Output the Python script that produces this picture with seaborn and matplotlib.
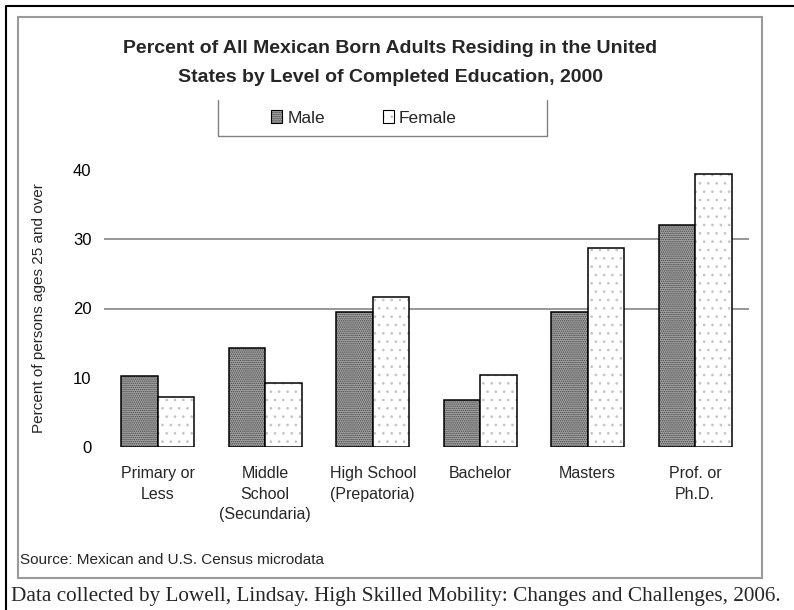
import matplotlib
matplotlib.use("Agg")
import matplotlib.pyplot as plt
from matplotlib.patches import Patch, Rectangle
from matplotlib.lines import Line2D
import seaborn as sns
import pandas as pd

# Education levels and share of persons ages 25+ (percent)
categories = ["Primary or\nLess", "Middle\nSchool\n(Secundaria)", "High School\n(Prepatoria)",
              "Bachelor", "Masters", "Prof. or\nPh.D."]
male = [10.2, 14.3, 19.5, 6.8, 19.5, 32.1]
female = [7.2, 9.2, 21.6, 10.4, 28.7, 39.4]
series = ["Male", "Female"]
y_ticks = [0, 10, 20, 30, 40]
grid_levels = [20, 30]

title = "Percent of All Mexican Born Adults Residing in the United\nStates by Level of Completed Education, 2000"
y_label = "Percent of persons ages 25 and over"
source = "Source: Mexican and U.S. Census microdata"
credit = "Data collected by Lowell, Lindsay. High Skilled Mobility: Changes and Challenges, 2006."

df = pd.DataFrame({
    "level": categories * 2,
    "sex": ["Male"] * len(categories) + ["Female"] * len(categories),
    "pct": male + female,
})

sns.set_theme(style="white")
plt.rcParams["font.family"] = ["Liberation Sans", "DejaVu Sans"]
plt.rcParams["hatch.linewidth"] = 0.7

W, H = 794, 610
fig = plt.figure(figsize=(W / 100, H / 100), dpi=100)
fig.patch.set_facecolor("white")

ax = fig.add_axes([104 / W, 1 - 447 / H, (749 - 104) / W, (447 - 170) / H])
styles = {"Male": dict(fc="#a4a4a4", hatch="........", hc="#444444"),
          "Female": dict(fc="white", hatch="..", hc="#c4c4c4")}

sns.barplot(data=df, x="level", y="pct", hue="sex", hue_order=series,
            order=categories, palette={k: styles[k]["fc"] for k in series},
            width=0.68, gap=0, edgecolor="black", linewidth=1.1,
            errorbar=None, legend=False, ax=ax, zorder=3)

n = len(categories)
for i, bar in enumerate(ax.patches[: 2 * n]):
    s = styles[series[i // n]]
    bar.set_hatch(s["hatch"])
    bar._hatch_color = matplotlib.colors.to_rgba(s["hc"])

ax.set_xlim(-0.5, n - 0.5)
ax.set_ylim(0, 40)
ax.set_yticks(y_ticks)
ax.set_yticklabels([str(t) for t in y_ticks], fontsize=12)
# gridlines only at selected levels, carried by minor ticks that share major positions
ax.yaxis.remove_overlapping_locs = False
ax.set_yticks(grid_levels, minor=True)
ax.tick_params(axis="y", which="both", length=0, pad=9, colors="black")

ax.set_xticks(range(n))
ax.set_xticklabels(categories, fontsize=11.5, linespacing=1.45)
ax.set_xticks([i - 0.5 for i in range(n + 1)], minor=True)
ax.tick_params(axis="x", which="major", length=0, pad=14)
ax.tick_params(axis="x", which="minor", length=4, width=0.8, color="#909090", direction="out")
ax.set_xlabel("")
ax.set_ylabel(y_label, fontsize=11, labelpad=19)
for sp in ax.spines.values():
    sp.set_visible(False)

ax.set_axisbelow(True)
ax.grid(False, which="major")
ax.grid(True, axis="y", which="minor", color="#7a7a7a", linewidth=1.1)

# Title
fig.text(390 / W, 1 - 63 / H, title, ha="center", va="center", fontsize=14,
         fontweight="bold", linespacing=1.85)

# Legend with a three-sided box
handles = [Patch(facecolor=styles[k]["fc"], edgecolor="black", hatch=styles[k]["hatch"],
                 linewidth=0.8, label=k) for k in series]
leg = fig.legend(handles=handles, loc="center", bbox_to_anchor=(364 / W, 1 - 118 / H),
                 ncol=2, frameon=False, fontsize=12.5, handlelength=0.65, handleheight=0.8,
                 handletextpad=0.3, columnspacing=3.3)
for h, k in zip(leg.legend_handles, series):
    h._hatch_color = matplotlib.colors.to_rgba(styles[k]["hc"])

box_kw = dict(color="#808080", linewidth=1.0, transform=fig.transFigure)
lx0, lx1, ly0, ly1 = 218 / W, 547 / W, 1 - 100 / H, 1 - 136 / H
fig.add_artist(Line2D([lx0, lx0, lx1, lx1], [ly0, ly1, ly1, ly0], **box_kw))

# Chart area frame and outer page frame
fig.add_artist(Rectangle((18 / W, 1 - 578 / H), (762 - 18) / W, (578 - 17) / H,
                         transform=fig.transFigure, fill=False,
                         edgecolor="#9a9a9a", linewidth=1.5))
fig.add_artist(Line2D([6 / W, 6 / W, 1.0], [0, 1 - 6 / H, 1 - 6 / H],
                      color="black", linewidth=1.5, transform=fig.transFigure))

fig.text(20 / W, 1 - 560 / H, source, ha="left", va="center", fontsize=11)
fig.text(396 / W, 1 - 596 / H, credit, ha="center", va="center", fontsize=15.3,
         family=["Liberation Serif", "DejaVu Serif"])

fig.savefig("out.png", dpi=100, facecolor="white")
